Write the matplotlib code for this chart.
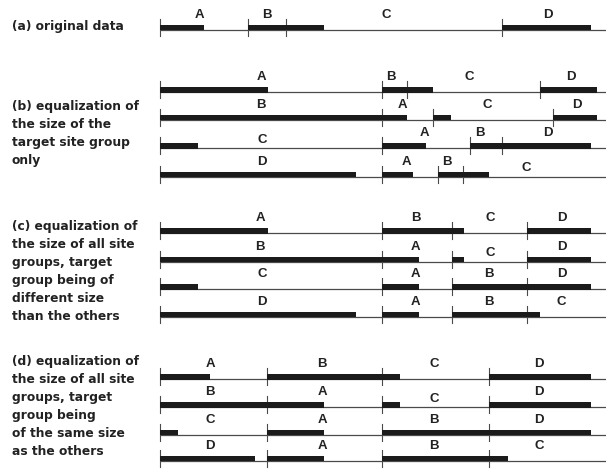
import matplotlib
matplotlib.use("Agg")
import matplotlib.pyplot as plt

# ---------------- data (units: offset along the site axis) ----------------
# each row: list of (label, bar_start, bar_end, label_x); plus tick positions
row_a_ticks = [0, 87.7, 126, 342]
row_a = [("A", 0, 44, 39), ("B", 87.7, 126, 107), ("C", 126, 164, 226), ("D", 342, 430.7, 388)]

rows_b_ticks = [
    [0, 221.7, 247, 380],
    [0, 221.7, 272.7, 392.7],
    [0, 221.7, 310, 342.3],
    [0, 221.7, 278.3, 303.3],
]
rows_b = [
    [("A", 0, 107.7, 101), ("B", 221.7, 247, 230.7), ("C", 247, 272.7, 309), ("D", 380, 436.7, 410.7)],
    [("B", 0, 221.7, 101), ("A", 221.7, 246.7, 242), ("C", 272.7, 291, 327), ("D", 392.7, 436.7, 416.7)],
    [("C", 0, 38.3, 102), ("A", 221.7, 266, 264), ("B", 310, 342.3, 320), ("D", 342.3, 430.7, 388)],
    [("D", 0, 196, 101.7), ("A", 221.7, 253.3, 246.7), ("B", 278.3, 303.3, 287.3), ("C", 303.3, 329.3, 366)],
]

rows_c_ticks = [0, 221.7, 291.7, 367.3]
rows_c = [
    [("A", 0, 107.7, 100), ("B", 221.7, 291.7, 255.7), ("C", 291.7, 304, 330), ("D", 367.3, 430.7, 401.7)],
    [("B", 0, 221.7, 100), ("A", 221.7, 259.3, 255), ("C", 291.7, 304, 330), ("D", 367.3, 430.7, 401.7)],
    [("C", 0, 38.3, 102), ("A", 221.7, 259.3, 255), ("B", 291.7, 367.3, 329.3), ("D", 367.3, 430.7, 401.7)],
    [("D", 0, 196, 102), ("A", 221.7, 259.3, 255), ("B", 291.7, 367.3, 329.3), ("C", 367.3, 380, 401.7)],
]

rows_d_ticks = [0, 107.3, 221.7, 329]
rows_d = [
    [("A", 0, 50, 50), ("B", 107.3, 221.7, 162.3), ("C", 221.7, 240, 274.3), ("D", 329, 430.7, 379.3)],
    [("B", 0, 107.3, 50), ("A", 107.3, 164.3, 162), ("C", 221.7, 240, 274), ("D", 329, 430.7, 379)],
    [("C", 0, 18.3, 50), ("A", 107.3, 164.3, 162), ("B", 221.7, 329, 274), ("D", 329, 430.7, 379)],
    [("D", 0, 95, 50), ("A", 107.3, 164.3, 162), ("B", 221.7, 329, 274), ("C", 329, 348.3, 379)],
]

panel_texts = [
    ["(a) original data"],
    ["(b) equalization of", "the size of the", "target site group", "only"],
    ["(c) equalization of", "the size of all site", "groups, target", "group being of",
     "different size", "than the others"],
    ["(d) equalization of", "the size of all site", "groups, target", "group being",
     "of the same size", "as the others"],
]

# ---------------- layout ----------------
W, H = 606, 469
X0 = 160
fig = plt.figure(figsize=(W / 100, H / 100), dpi=100)
ax = fig.add_axes([0, 0, 1, 1])
ax.set_xlim(-X0, W - X0)
ax.set_ylim(H, 0)
ax.axis("off")

baselines = {
    "a": [30],
    "b": [92.3, 120, 148.3, 176.7],
    "c": [233.3, 261.7, 289.3, 316.7],
    "d": [379.3, 407.3, 435, 460.7],
}
# labels drawn a bit lower (row key, row index, label)
lowered = {("b", 2, "C"), ("b", 3, "C"), ("c", 1, "C"), ("d", 1, "C")}

text_start = [26.7, 106.7, 226.7, 361.7]
text_step = 17.9

bar_color = "#1b1b1b"
line_color = "#4a4a4a"
text_color = "#222222"
bar_h = 5.5


def draw_row(key, idx, y, ticks, segs):
    ax.plot([0, W - X0], [y, y], color=line_color, lw=0.9, solid_capstyle="butt", zorder=1)
    for t in ticks:
        ax.plot([t, t], [y - 11, y + 6], color=line_color, lw=0.8, zorder=2)
    for lab, s, e, lx in segs:
        ax.barh(y - bar_h / 2 + 0.4, e - s, left=s, height=bar_h, color=bar_color,
                edgecolor="none", zorder=3)
        dy = -8.5 if (key, idx, lab) in lowered else -15
        ax.text(lx, y + dy, lab, ha="center", va="center", fontsize=9.5,
                fontweight="bold", family="Liberation Sans", color=text_color)


draw_row("a", 0, baselines["a"][0], row_a_ticks, row_a)
for i, (tk, sg) in enumerate(zip(rows_b_ticks, rows_b)):
    draw_row("b", i, baselines["b"][i], tk, sg)
for i, sg in enumerate(rows_c):
    draw_row("c", i, baselines["c"][i], rows_c_ticks, sg)
for i, sg in enumerate(rows_d):
    draw_row("d", i, baselines["d"][i], rows_d_ticks, sg)

for p, lines in enumerate(panel_texts):
    for j, line in enumerate(lines):
        ax.text(12 - X0, text_start[p] + j * text_step, line, ha="left", va="center",
                fontsize=8.8, fontweight="bold", family="DejaVu Sans", color=text_color)

fig.savefig("out.png", dpi=100, facecolor="white")
